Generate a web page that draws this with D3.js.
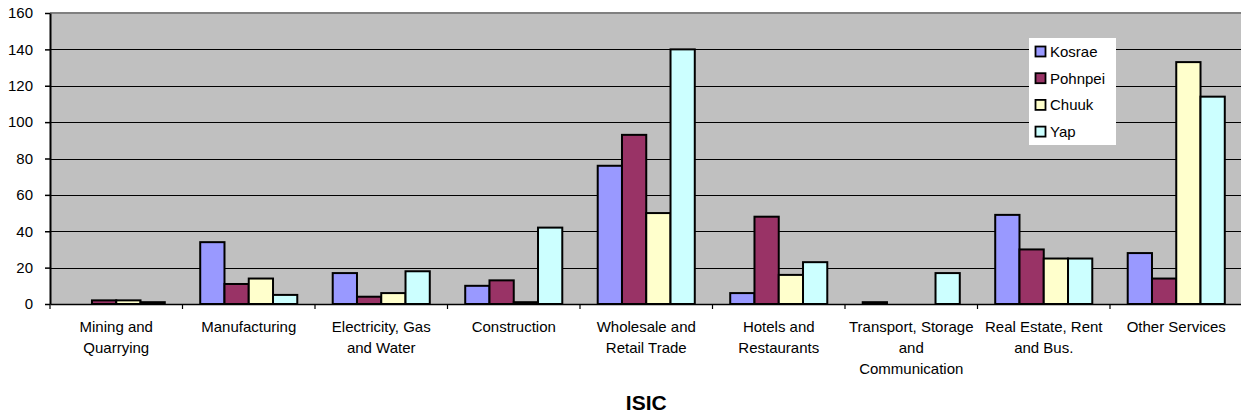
<!DOCTYPE html>
<html>
<head>
<meta charset="utf-8">
<script src="https://cdn.jsdelivr.net/npm/d3@7"></script>
<style>
  body { margin: 0; background: #fff; }
  text { font-family: Arial, "Liberation Sans", sans-serif; }
</style>
</head>
<body>
<div id="chart"></div>
<script>
const categories = [
  ["Mining and", "Quarrying"],
  ["Manufacturing"],
  ["Electricity, Gas", "and Water"],
  ["Construction"],
  ["Wholesale and", "Retail Trade"],
  ["Hotels and", "Restaurants"],
  ["Transport, Storage", "and", "Communication"],
  ["Real Estate, Rent", "and Bus."],
  ["Other Services"]
];
const seriesNames = ["Kosrae", "Pohnpei", "Chuuk", "Yap"];
const kosrae  = [0, 34, 17, 10, 76, 6, 1, 49, 28];
const pohnpei = [2, 11, 4, 13, 93, 48, 0, 30, 14];
const chuuk   = [2, 14, 6, 1, 50, 16, 0, 25, 133];
const yap     = [1, 5, 18, 42, 140, 23, 17, 25, 114];
const yTicks  = [0, 20, 40, 60, 80, 100, 120, 140, 160];
const colors  = ["#9999ff", "#993366", "#ffffcc", "#ccffff"];

const seriesValues = [kosrae, pohnpei, chuuk, yap];
const catKeys = categories.map(c => c.join(" "));

const width = 1241, height = 415;
const margin = { top: 13, left: 50, bottom: 111, right: -1.5 };
const iwidth = width - margin.left - margin.right;
const iheight = height - margin.top - margin.bottom;

const svg = d3.select("#chart").append("svg")
  .attr("width", width)
  .attr("height", height);

const g = svg.append("g").attr("transform", `translate(${margin.left},${margin.top})`);

const y = d3.scaleLinear().domain([0, 160]).range([iheight, 0]);
const x = d3.scaleBand().domain(catKeys).range([0, iwidth]).padding(0);
const x1 = d3.scaleBand().domain(seriesNames).range([0, x.bandwidth()])
  .paddingInner(0).paddingOuter(0.73);

// plot area
g.append("rect")
  .attr("x", 0).attr("y", 0)
  .attr("width", iwidth).attr("height", iheight)
  .style("fill", "#c0c0c0");

// top border
g.append("line")
  .attr("x1", 0).attr("x2", iwidth).attr("y1", 0).attr("y2", 0)
  .style("stroke", "#808080").style("stroke-width", 2);

// gridlines
g.selectAll(".grid").data(yTicks.filter(d => d > 0 && d < 160)).enter()
  .append("line")
  .attr("class", "grid")
  .attr("x1", 0).attr("x2", iwidth)
  .attr("y1", d => Math.round(y(d)) + 0.5).attr("y2", d => Math.round(y(d)) + 0.5)
  .style("stroke", "#000").style("stroke-width", 1);

// bars
const rows = catKeys.map((k, i) => ({ key: k, vals: seriesNames.map((s, j) => ({ s, v: seriesValues[j][i], c: colors[j] })) }));
const groups = g.selectAll(".cat").data(rows).enter().append("g")
  .attr("class", "cat")
  .attr("transform", d => `translate(${x(d.key)},0)`);
groups.selectAll("rect").data(d => d.vals.filter(b => b.v > 0)).enter().append("rect")
  .attr("x", d => x1(d.s))
  .attr("y", d => y(d.v))
  .attr("width", x1.bandwidth())
  .attr("height", d => iheight - y(d.v))
  .style("fill", d => d.c)
  .style("stroke", "#000")
  .style("stroke-width", 2);

// y axis
const yAxis = g.append("g")
  .call(d3.axisLeft(y).tickValues(yTicks).tickSize(5).tickPadding(12).tickSizeOuter(0));
yAxis.select(".domain").style("stroke", "#000").style("stroke-width", 2);
yAxis.selectAll("line").style("stroke", "#000").style("stroke-width", 1.5);
yAxis.selectAll("text").style("font-size", "15px").style("fill", "#000");

// x axis
const xAxis = g.append("g")
  .attr("transform", `translate(0,${iheight})`)
  .call(d3.axisBottom(x).tickSize(0).tickFormat(""));
xAxis.select(".domain").style("stroke", "#000").style("stroke-width", 1.5);
xAxis.selectAll(".tick").remove();

// category boundary ticks
const bounds = catKeys.map(k => x(k)).concat([iwidth]);
xAxis.selectAll(".btick").data(bounds).enter().append("line")
  .attr("class", "btick")
  .attr("x1", d => d).attr("x2", d => d)
  .attr("y1", 0).attr("y2", 5)
  .style("stroke", "#000").style("stroke-width", 1.2);

// category labels
const labels = xAxis.selectAll(".clabel").data(categories).enter().append("text")
  .attr("class", "clabel")
  .attr("text-anchor", "middle")
  .style("font-size", "15px")
  .style("fill", "#000")
  .attr("x", (d, i) => x(catKeys[i]) + x.bandwidth() / 2)
  .attr("y", 28);
labels.selectAll("tspan").data(d => d).enter().append("tspan")
  .attr("x", function () { return d3.select(this.parentNode).attr("x"); })
  .attr("dy", (d, i) => i === 0 ? 0 : 21)
  .text(d => d);

// axis title
svg.append("text")
  .attr("x", margin.left + iwidth / 2)
  .attr("y", 410)
  .attr("text-anchor", "middle")
  .style("font-size", "21px")
  .style("font-weight", "bold")
  .text("ISIC");

// legend
const legend = svg.append("g").attr("transform", "translate(1029,38)");
legend.append("rect")
  .attr("width", 87).attr("height", 107)
  .style("fill", "#fff");
const items = legend.selectAll(".item").data(seriesNames).enter().append("g")
  .attr("class", "item")
  .attr("transform", (d, i) => `translate(0,${8 + i * 26.7})`);
items.append("rect")
  .attr("x", 6.5).attr("y", 0.5)
  .attr("width", 10).attr("height", 10)
  .style("fill", (d, i) => colors[i])
  .style("stroke", "#000").style("stroke-width", 1.8);
items.append("text")
  .attr("x", 21).attr("y", 11)
  .style("font-size", "15px")
  .style("fill", "#000")
  .text(d => d);
</script>
</body>
</html>
